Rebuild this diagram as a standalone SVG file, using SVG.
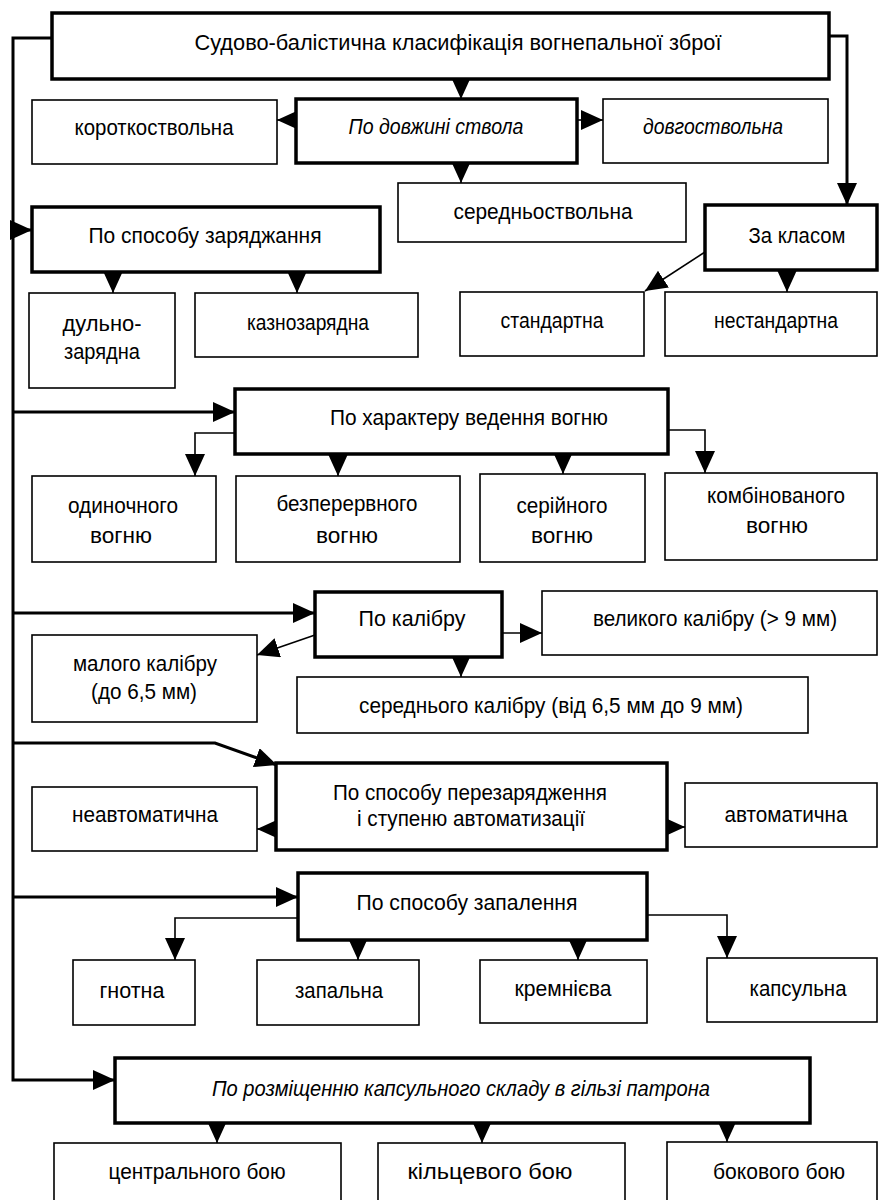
<svg xmlns="http://www.w3.org/2000/svg" width="880" height="1200" viewBox="0 0 880 1200">
<style>
.box rect{fill:#fff;stroke:#000}
.thick rect{stroke-width:3.5}
.thin rect{stroke-width:1.6}
text{font-family:"Liberation Sans",Arial,sans-serif;font-size:22px;fill:#000;text-anchor:middle}
.it{font-style:italic}
.c path{fill:none;stroke:#000}
.c .w{stroke-width:3}
.c .n{stroke-width:1.6}
</style>
<defs>
<marker id="ah" markerUnits="userSpaceOnUse" markerWidth="23" markerHeight="21" refX="22" refY="10" orient="auto">
<path d="M0,0 L22,10 L0,20 Z" fill="#000"/>
</marker>
</defs>
<rect width="880" height="1200" fill="#fff"/>
<g id="connectors" class="c">
<path class="w" d="M52,38 H13 V1080 H115" marker-end="url(#ah)"/>
<path class="w" d="M829,36 H847 V205" marker-end="url(#ah)"/>
<path class="n" d="M461,79 V99" marker-end="url(#ah)"/>
<path class="n" d="M296,120 H277" marker-end="url(#ah)"/>
<path class="n" d="M577,120 H603" marker-end="url(#ah)"/>
<path class="n" d="M461,163 V183" marker-end="url(#ah)"/>
<path class="w" d="M13,230 H32" marker-end="url(#ah)"/>
<path class="n" d="M113,272 V293" marker-end="url(#ah)"/>
<path class="n" d="M297,272 V293" marker-end="url(#ah)"/>
<path class="n" d="M705,252 L645,291" marker-end="url(#ah)"/>
<path class="n" d="M787,270 V292" marker-end="url(#ah)"/>
<path class="w" d="M13,412 H235" marker-end="url(#ah)"/>
<path class="n" d="M235,433 H195 V476" marker-end="url(#ah)"/>
<path class="n" d="M338,454 V476" marker-end="url(#ah)"/>
<path class="n" d="M563,454 V474" marker-end="url(#ah)"/>
<path class="n" d="M668,430 H705 V473" marker-end="url(#ah)"/>
<path class="w" d="M13,613 H315" marker-end="url(#ah)"/>
<path class="n" d="M315,635 L257,655" marker-end="url(#ah)"/>
<path class="n" d="M502,633 H542" marker-end="url(#ah)"/>
<path class="n" d="M461,657 V677" marker-end="url(#ah)"/>
<path class="w" d="M13,743 H215 L277,765" marker-end="url(#ah)"/>
<path class="n" d="M276,829 H257" marker-end="url(#ah)"/>
<path class="n" d="M667,827 H685" marker-end="url(#ah)"/>
<path class="w" d="M13,897 H298" marker-end="url(#ah)"/>
<path class="n" d="M298,918 H175 V960" marker-end="url(#ah)"/>
<path class="n" d="M358,940 V960" marker-end="url(#ah)"/>
<path class="n" d="M578,940 V960" marker-end="url(#ah)"/>
<path class="n" d="M647,915 H727 V958" marker-end="url(#ah)"/>
<path class="n" d="M217,1123 V1143" marker-end="url(#ah)"/>
<path class="n" d="M482,1123 V1143" marker-end="url(#ah)"/>
<path class="n" d="M727,1123 V1142" marker-end="url(#ah)"/>
</g>
<g id="n-title" class="box thick"><rect x="52" y="13" width="777" height="66"/><text x="458" y="50" textLength="527" lengthAdjust="spacingAndGlyphs">Судово-балістична класифікація вогнепальної зброї</text></g>
<g id="n-short" class="box thin"><rect x="32" y="100" width="245" height="64"/><text x="154" y="135" textLength="159" lengthAdjust="spacingAndGlyphs">короткоствольна</text></g>
<g id="n-length" class="box thick"><rect x="296" y="99" width="281" height="64"/><text class="it" x="436" y="134" textLength="175" lengthAdjust="spacingAndGlyphs">По довжині ствола</text></g>
<g id="n-long" class="box thin"><rect x="603" y="99" width="225" height="64"/><text class="it" x="713" y="134" textLength="140" lengthAdjust="spacingAndGlyphs">довгоствольна</text></g>
<g id="n-mid" class="box thin"><rect x="398" y="183" width="288" height="59"/><text x="543" y="219" textLength="179" lengthAdjust="spacingAndGlyphs">середньоствольна</text></g>
<g id="n-class" class="box thick"><rect x="705" y="205" width="172" height="65"/><text x="797" y="243" textLength="97" lengthAdjust="spacingAndGlyphs">За класом</text></g>
<g id="n-load" class="box thick"><rect x="32" y="207" width="348" height="65"/><text x="205" y="243" textLength="233" lengthAdjust="spacingAndGlyphs">По способу заряджання</text></g>
<g id="n-muzzle" class="box thin"><rect x="29" y="293" width="146" height="95"/><text x="102" y="331" textLength="79" lengthAdjust="spacingAndGlyphs">дульно-</text><text x="102" y="359" textLength="76" lengthAdjust="spacingAndGlyphs">зарядна</text></g>
<g id="n-breech" class="box thin"><rect x="195" y="293" width="223" height="64"/><text x="308" y="330" textLength="122" lengthAdjust="spacingAndGlyphs">казнозарядна</text></g>
<g id="n-std" class="box thin"><rect x="460" y="292" width="184" height="64"/><text x="552" y="328" textLength="103" lengthAdjust="spacingAndGlyphs">стандартна</text></g>
<g id="n-nonstd" class="box thin"><rect x="665" y="292" width="212" height="64"/><text x="776" y="328" textLength="124" lengthAdjust="spacingAndGlyphs">нестандартна</text></g>
<g id="n-fire" class="box thick"><rect x="235" y="389" width="433" height="65"/><text x="469" y="425" textLength="278" lengthAdjust="spacingAndGlyphs">По характеру ведення вогню</text></g>
<g id="n-single" class="box thin"><rect x="32" y="476" width="184" height="86"/><text x="123" y="513" textLength="110" lengthAdjust="spacingAndGlyphs">одиночного</text><text x="121" y="543" textLength="62" lengthAdjust="spacingAndGlyphs">вогню</text></g>
<g id="n-cont" class="box thin"><rect x="236" y="476" width="224" height="86"/><text x="347" y="511" textLength="141" lengthAdjust="spacingAndGlyphs">безперервного</text><text x="347" y="543" textLength="62" lengthAdjust="spacingAndGlyphs">вогню</text></g>
<g id="n-burst" class="box thin"><rect x="480" y="474" width="165" height="88"/><text x="562" y="513" textLength="91" lengthAdjust="spacingAndGlyphs">серійного</text><text x="562" y="543" textLength="62" lengthAdjust="spacingAndGlyphs">вогню</text></g>
<g id="n-comb" class="box thin"><rect x="665" y="473" width="212" height="87"/><text x="776" y="503" textLength="138" lengthAdjust="spacingAndGlyphs">комбінованого</text><text x="777" y="533" textLength="62" lengthAdjust="spacingAndGlyphs">вогню</text></g>
<g id="n-cal" class="box thick"><rect x="315" y="592" width="187" height="65"/><text x="412" y="626" textLength="107" lengthAdjust="spacingAndGlyphs">По калібру</text></g>
<g id="n-small" class="box thin"><rect x="32" y="635" width="225" height="87"/><text x="145" y="671" textLength="144" lengthAdjust="spacingAndGlyphs">малого калібру</text><text x="144" y="699" textLength="106" lengthAdjust="spacingAndGlyphs">(до 6,5 мм)</text></g>
<g id="n-large" class="box thin"><rect x="542" y="591" width="335" height="64"/><text x="715" y="626" textLength="244" lengthAdjust="spacingAndGlyphs">великого калібру (&gt; 9 мм)</text></g>
<g id="n-medium" class="box thin"><rect x="297" y="677" width="511" height="56"/><text x="551" y="713" textLength="384" lengthAdjust="spacingAndGlyphs">середнього калібру (від 6,5 мм до 9 мм)</text></g>
<g id="n-reload" class="box thick"><rect x="276" y="763" width="391" height="87"/><text x="470" y="800" textLength="274" lengthAdjust="spacingAndGlyphs">По способу перезарядження</text><text x="471" y="826" textLength="228" lengthAdjust="spacingAndGlyphs">і ступеню автоматизації</text></g>
<g id="n-nonauto" class="box thin"><rect x="32" y="787" width="225" height="64"/><text x="145" y="822" textLength="146" lengthAdjust="spacingAndGlyphs">неавтоматична</text></g>
<g id="n-auto" class="box thin"><rect x="685" y="783" width="192" height="64"/><text x="786" y="822" textLength="123" lengthAdjust="spacingAndGlyphs">автоматична</text></g>
<g id="n-ignite" class="box thick"><rect x="298" y="873" width="349" height="67"/><text x="467" y="910" textLength="221" lengthAdjust="spacingAndGlyphs">По способу запалення</text></g>
<g id="n-wick" class="box thin"><rect x="73" y="960" width="122" height="65"/><text x="132" y="998" textLength="65" lengthAdjust="spacingAndGlyphs">гнотна</text></g>
<g id="n-match" class="box thin"><rect x="257" y="960" width="162" height="65"/><text x="339" y="998" textLength="88" lengthAdjust="spacingAndGlyphs">запальна</text></g>
<g id="n-flint" class="box thin"><rect x="480" y="960" width="167" height="63"/><text x="563" y="996" textLength="97" lengthAdjust="spacingAndGlyphs">кремнієва</text></g>
<g id="n-cap" class="box thin"><rect x="707" y="958" width="170" height="64"/><text x="798" y="996" textLength="97" lengthAdjust="spacingAndGlyphs">капсульна</text></g>
<g id="n-primer" class="box thick"><rect x="115" y="1058" width="695" height="65"/><text class="it" x="461" y="1096" textLength="498" lengthAdjust="spacingAndGlyphs">По розміщенню капсульного складу в гільзі патрона</text></g>
<g id="n-center" class="box thin"><rect x="54" y="1143" width="287" height="70"/><text x="197" y="1179" textLength="177" lengthAdjust="spacingAndGlyphs">центрального бою</text></g>
<g id="n-ring" class="box thin"><rect x="378" y="1143" width="247" height="70"/><text x="490" y="1179" textLength="165" lengthAdjust="spacingAndGlyphs">кільцевого бою</text></g>
<g id="n-side" class="box thin"><rect x="667" y="1142" width="210" height="70"/><text x="779" y="1179" textLength="132" lengthAdjust="spacingAndGlyphs">бокового бою</text></g>
</svg>
